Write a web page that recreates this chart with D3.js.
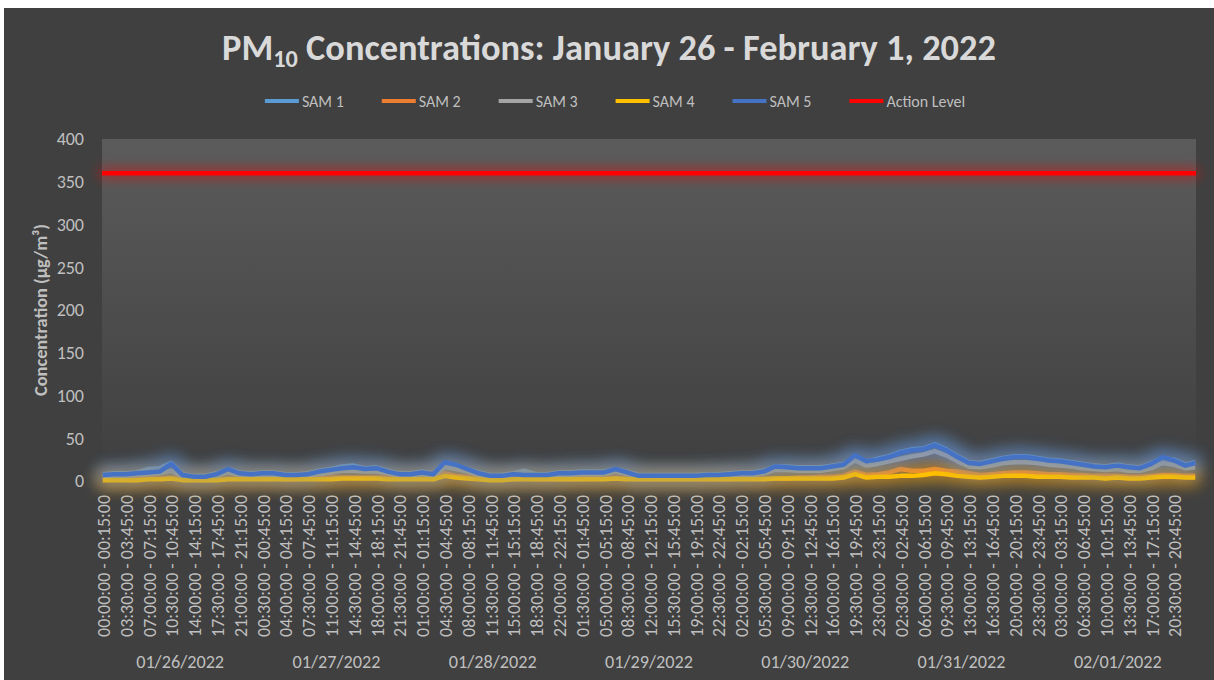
<!DOCTYPE html>
<html>
<head>
<meta charset="utf-8">
<script src="https://cdn.jsdelivr.net/npm/d3@7"></script>
<style>
  html, body { margin: 0; padding: 0; background: #fff; }
  svg { display: block; font-family: Carlito, Lato, "Open Sans", sans-serif; }
</style>
</head>
<body>
<div id="chart"></div>
<script>
// ---- Data ----
// 15-minute slots, Jan 26 00:00 -> Feb 1 23:45  (672 categories)
const slotCount = 672;
// sampled every 7 slots (1h45), last value at the final slot
const sam1 = [8,9,9,10,14,15,21,8,6,6,9,14,10,9,10,10,8,8,9,12,14,17,18,15,16,
  12,9,9,11,9,21,18,14,10,7,7,9,12,8,8,10,10,11,11,11,14,11,7,7,
  7,7,7,7,8,8,9,10,10,12,17,17,16,16,16,18,20,28,23,26,29,34,37,38,
  43,37,29,22,21,24,27,29,29,27,25,24,22,20,18,17,19,17,16,21,27,25,19,22];
const sam2 = [2,2,2,2,3,3,4,2,1,1,2,3,3,3,3,3,2,2,3,3,4,4,4,4,4,
  4,3,3,3,3,9,6,5,3,2,2,2,3,2,2,2,2,3,3,3,4,3,2,2,
  2,2,2,2,2,2,2,3,3,3,3,3,4,4,5,5,6,11,7,8,10,14,12,12,
  14,12,11,9,7,8,9,10,10,9,8,8,7,7,6,6,6,5,5,6,7,7,6,6];
const sam3 = [5,6,6,7,8,9,12,5,4,4,6,10,7,6,7,7,5,5,6,8,10,12,12,11,11,
  9,6,6,8,6,16,14,11,7,5,5,6,6,6,6,7,7,8,8,8,11,8,5,5,
  5,5,5,5,6,6,7,7,7,9,13,13,12,12,12,14,16,24,18,20,23,26,29,31,
  35,30,23,17,16,18,21,22,22,21,19,18,17,15,14,13,14,12,12,15,21,19,15,16];
const sam4 = [1,1,1,1,2,2,3,1,1,1,1,2,2,2,2,2,2,2,2,2,2,3,3,3,3,
  2,2,2,2,2,6,4,3,2,1,1,2,2,2,2,2,2,2,2,2,3,2,2,2,
  2,2,2,2,2,2,2,2,2,2,3,3,3,3,3,3,4,8,4,5,5,6,6,7,
  9,8,6,5,4,5,6,6,6,5,5,5,4,4,4,3,4,3,3,4,5,5,4,4];
const sam5 = [7,8,8,9,10,11,20,7,5,5,8,14,9,8,9,9,7,7,8,11,13,15,16,14,15,
  11,8,8,10,8,22,19,14,9,6,6,8,7,7,7,9,9,10,10,10,14,10,6,6,
  6,6,6,6,7,7,8,9,9,11,17,16,15,15,15,17,19,30,23,25,28,33,36,37,
  42,36,28,21,20,23,26,28,28,26,24,23,21,19,17,16,18,16,15,20,28,24,18,21];
const actionLevel = 360;

const seriesNames = ["SAM 1", "SAM 2", "SAM 3", "SAM 4", "SAM 5"];
const seriesColors = ["#5b9bd5", "#ed7d31", "#a5a5a5", "#ffc000", "#4472c4"];
const actionColor = "#ff0000";

const tickLabels = [
  "00:00:00 - 00:15:00","03:30:00 - 03:45:00","07:00:00 - 07:15:00","10:30:00 - 10:45:00","14:00:00 - 14:15:00","17:30:00 - 17:45:00","21:00:00 - 21:15:00",
  "00:30:00 - 00:45:00","04:00:00 - 04:15:00","07:30:00 - 07:45:00","11:00:00 - 11:15:00","14:30:00 - 14:45:00","18:00:00 - 18:15:00","21:30:00 - 21:45:00",
  "01:00:00 - 01:15:00","04:30:00 - 04:45:00","08:00:00 - 08:15:00","11:30:00 - 11:45:00","15:00:00 - 15:15:00","18:30:00 - 18:45:00","22:00:00 - 22:15:00",
  "01:30:00 - 01:45:00","05:00:00 - 05:15:00","08:30:00 - 08:45:00","12:00:00 - 12:15:00","15:30:00 - 15:45:00","19:00:00 - 19:15:00","22:30:00 - 22:45:00",
  "02:00:00 - 02:15:00","05:30:00 - 05:45:00","09:00:00 - 09:15:00","12:30:00 - 12:45:00","16:00:00 - 16:15:00","19:30:00 - 19:45:00","23:00:00 - 23:15:00",
  "02:30:00 - 02:45:00","06:00:00 - 06:15:00","09:30:00 - 09:45:00","13:00:00 - 13:15:00","16:30:00 - 16:45:00","20:00:00 - 20:15:00","23:30:00 - 23:45:00",
  "03:00:00 - 03:15:00","06:30:00 - 06:45:00","10:00:00 - 10:15:00","13:30:00 - 13:45:00","17:00:00 - 17:15:00","20:30:00 - 20:45:00"
];
const dateLabels = ["01/26/2022","01/27/2022","01/28/2022","01/29/2022","01/30/2022","01/31/2022","02/01/2022"];
const yTicks = [0, 50, 100, 150, 200, 250, 300, 350, 400];

// ---- Layout ----
const width = 1214, height = 680;
const plot = { left: 102, right: 1196, top: 139, bottom: 481 };
const textColor = "#bfbfbf";

const svg = d3.select("#chart").append("svg")
  .attr("width", width).attr("height", height);

const defs = svg.append("defs");

// plot background gradient
const grad = defs.append("linearGradient").attr("id", "plotBg")
  .attr("x1", 0).attr("y1", 0).attr("x2", 0).attr("y2", 1);
grad.append("stop").attr("offset", "0%").attr("stop-color", "#5b5b5b");
grad.append("stop").attr("offset", "100%").attr("stop-color", "#3f3f3f");

// glow filter (Excel "glow" look)
function glow(id, color, r, sd, op) {
  const f = defs.append("filter").attr("id", id)
    .attr("filterUnits", "userSpaceOnUse")
    .attr("x", 0).attr("y", 0).attr("width", width).attr("height", height);
  f.append("feMorphology").attr("in", "SourceAlpha").attr("operator", "dilate").attr("radius", r).attr("result", "d");
  f.append("feGaussianBlur").attr("in", "d").attr("stdDeviation", sd).attr("result", "b");
  f.append("feFlood").attr("flood-color", color).attr("flood-opacity", op).attr("result", "c");
  f.append("feComposite").attr("in", "c").attr("in2", "b").attr("operator", "in").attr("result", "g");
  const m = f.append("feMerge");
  m.append("feMergeNode").attr("in", "g");
  m.append("feMergeNode").attr("in", "SourceGraphic");
}
seriesColors.forEach((c, i) => glow("glow" + i, c, 4, 8, 0.5));
glow("glowAction", actionColor, 3, 6, 0.45);

// frame
svg.append("rect").attr("x", 4).attr("y", 8).attr("width", width - 4).attr("height", height - 8)
  .attr("fill", "#404040");
svg.append("rect").attr("x", plot.left).attr("y", plot.top)
  .attr("width", plot.right - plot.left).attr("height", plot.bottom - plot.top)
  .attr("fill", "url(#plotBg)");

// fit a text node to a target length
function fit(sel, base, target) {
  const w = sel.node().getComputedTextLength();
  return base * target / w;
}

// ---- Scales ----
const x = d3.scaleBand().domain(d3.range(slotCount)).range([plot.left, plot.right]);
const y = d3.scaleLinear().domain([0, 400]).range([plot.bottom, plot.top]);
const cx = s => x(s) + x.bandwidth() / 2;

// ---- Axes ----
const yAxis = svg.append("g").attr("transform", `translate(${plot.left},0)`)
  .call(d3.axisLeft(y).tickValues(yTicks).tickSize(0).tickPadding(18));
yAxis.select(".domain").remove();
yAxis.selectAll("text").attr("fill", textColor).attr("font-size", 18)
  .attr("font-family", "Carlito, Lato, sans-serif");

const xAxis = svg.append("g").attr("transform", `translate(0,${plot.bottom})`)
  .call(d3.axisBottom(x).tickValues(d3.range(0, slotCount, 14))
    .tickFormat((d, i) => tickLabels[i]).tickSize(0).tickPadding(0));
xAxis.select(".domain").remove();
const xt = xAxis.selectAll("text")
  .attr("fill", textColor).attr("font-size", 15)
  .attr("font-family", "Carlito, Lato, sans-serif")
  .attr("text-anchor", "end")
  .attr("transform", "rotate(-90)")
  .attr("x", -14).attr("y", 1).attr("dy", "0.35em");
xt.attr("font-size", fit(d3.select(xt.node()), 15, 142));

// date group labels
const dl = svg.append("g").selectAll("text").data(dateLabels).join("text")
  .attr("x", (d, i) => x(i * 96) + x.bandwidth() * 48)
  .attr("y", 668)
  .attr("text-anchor", "middle")
  .attr("fill", textColor).attr("font-size", 17)
  .text(d => d);
dl.attr("font-size", fit(d3.select(dl.node()), 17, 88));

// y title
const yt = svg.append("text")
  .attr("transform", `translate(47,${(plot.top + plot.bottom) / 2}) rotate(-90)`)
  .attr("text-anchor", "middle")
  .attr("fill", textColor).attr("font-size", 14).attr("font-weight", 700)
  .text("Concentration (µg/m³)");
yt.attr("font-size", fit(yt, 14, 172));

// ---- Series ----
const slotOf = i => Math.min(i * 7, slotCount - 1);
const line = d3.line().x((d, i) => cx(slotOf(i))).y(d => y(d));

const allSeries = [sam1, sam2, sam3, sam4, sam5];
allSeries.forEach((vals, k) => {
  svg.append("path")
    .datum(vals)
    .attr("d", line)
    .attr("fill", "none")
    .attr("stroke", seriesColors[k])
    .attr("stroke-width", 4.5)
    .attr("stroke-linejoin", "round")
    .attr("filter", `url(#glow${k})`);
});

// action level
svg.append("path")
  .datum([actionLevel, actionLevel])
  .attr("d", d3.line().x((d, i) => i ? plot.right : plot.left).y(d => y(d)))
  .attr("stroke", actionColor).attr("stroke-width", 4.5)
  .attr("filter", "url(#glowAction)");

// ---- Title ----
const title = svg.append("text")
  .attr("x", width / 2 + 2).attr("y", 60)
  .attr("text-anchor", "middle")
  .attr("fill", "#d9d9d9").attr("font-size", 30).attr("font-weight", 700);
title.append("tspan").text("PM");
title.append("tspan").attr("font-size", 20).attr("dy", 7).text("10");
title.append("tspan").attr("dy", -7).text(" Concentrations: January 26 - February 1, 2022");
const ts = fit(title, 1, 774);
title.attr("font-size", 30 * ts);
title.select("tspan:nth-child(2)").attr("font-size", 20 * ts);

// ---- Legend ----
const legendItems = seriesNames.map((n, i) => ({ name: n, color: seriesColors[i] }))
  .concat([{ name: "Action Level", color: actionColor }]);
const legend = svg.append("g");
const gap = 38;
let lx = 0;
legendItems.forEach(it => {
  const g = legend.append("g").attr("transform", `translate(${lx},0)`);
  g.append("line").attr("x1", 0).attr("x2", 34).attr("y1", 0).attr("y2", 0)
    .attr("stroke", it.color).attr("stroke-width", 4);
  const t = g.append("text").attr("x", 37).attr("y", 5.5)
    .attr("fill", textColor).attr("font-size", 16).text(it.name);
  lx += 37 + t.node().getComputedTextLength() + gap;
});
lx -= gap;
legend.attr("transform", `translate(${(width - lx) / 2 + 8},101)`);
</script>
</body>
</html>
